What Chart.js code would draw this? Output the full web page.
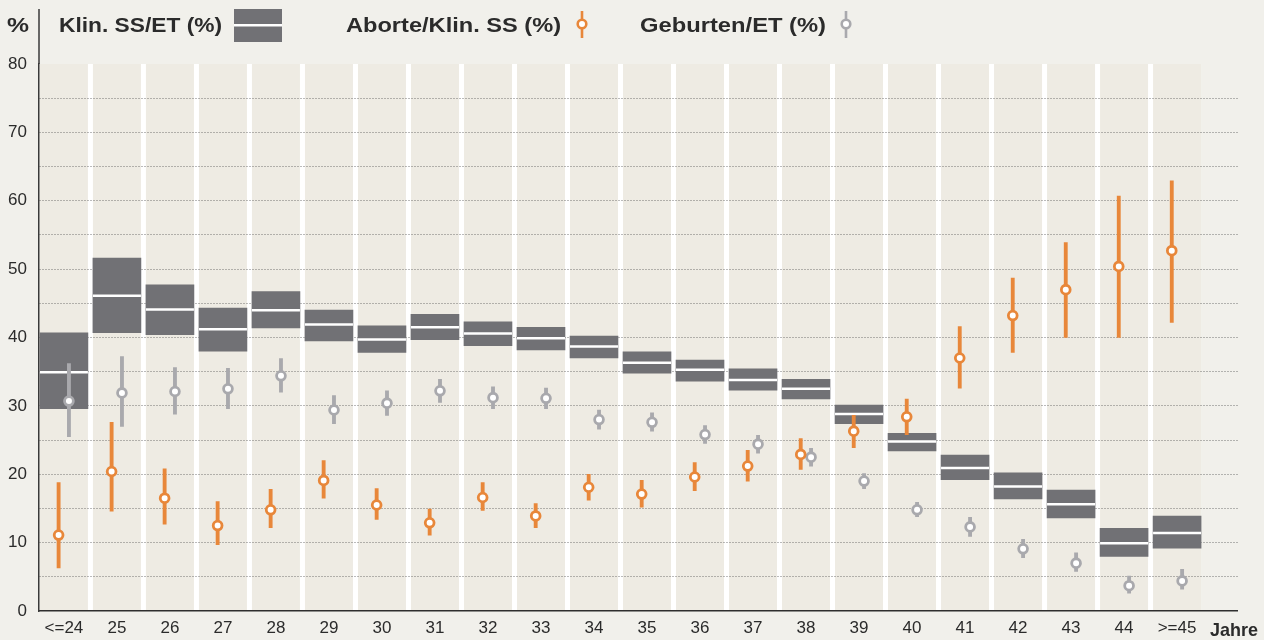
<!DOCTYPE html>
<html>
<head>
<meta charset="utf-8">
<script src="https://cdn.jsdelivr.net/npm/chart.js@4.4.1/dist/chart.umd.min.js"></script>
<style>
  html, body { margin: 0; padding: 0; background: #f1f0eb; }
  #wrap { width: 1264px; height: 640px; }
</style>
</head>
<body>
<div id="wrap"><canvas id="chart" width="1264" height="640"></canvas></div>
<script>
// DATA
const ageLabels = ["<=24", "25", "26", "27", "28", "29", "30", "31", "32", "33", "34",
    "35", "36", "37", "38", "39", "40", "41", "42", "43", "44", ">=45"];

// Klin. SS/ET (%) - box low / high / median
const klinLow  = [29.6, 40.7, 40.4, 38.0, 41.4, 39.5, 37.8, 39.7, 38.8, 38.2, 37.0,
    34.8, 33.6, 32.3, 31.0, 27.4, 23.4, 19.2, 16.4, 13.6, 8.0, 9.2];
const klinHigh = [40.7, 51.6, 47.7, 44.3, 46.7, 44.0, 41.7, 43.4, 42.3, 41.5, 40.2,
    37.9, 36.7, 35.4, 33.9, 30.1, 26.0, 22.8, 20.2, 17.7, 12.1, 13.9];
const klinMed  = [34.9, 46.1, 44.1, 41.2, 44.0, 41.9, 39.7, 41.5, 40.6, 39.9, 38.7,
    36.3, 35.3, 33.8, 32.5, 28.8, 24.8, 20.9, 18.2, 15.6, 9.9, 11.4];

// Aborte/Klin. SS (%)
const abortMid  = [11.1, 20.4, 16.5, 12.5, 14.8, 19.1, 15.5, 12.9, 16.6, 13.9, 18.1,
    17.1, 19.6, 21.2, 22.9, 26.3, 28.4, 37.0, 43.2, 47.0, 50.4, 52.7];
const abortLow  = [6.3, 14.6, 12.7, 9.7, 12.2, 16.5, 13.4, 11.1, 14.7, 12.2, 16.2,
    15.2, 17.6, 19.0, 20.7, 23.9, 25.8, 32.6, 37.8, 40.0, 40.0, 42.2];
const abortHigh = [18.8, 27.6, 20.8, 16.0, 17.8, 22.0, 17.9, 14.9, 18.8, 15.7, 20.0,
    19.1, 21.7, 23.5, 25.2, 28.6, 31.0, 41.6, 48.7, 53.9, 60.7, 62.9];

// Geburten/ET (%)
const birthMid  = [30.7, 31.9, 32.1, 32.5, 34.4, 29.4, 30.4, 32.2, 31.2, 31.1, 28.0,
    27.6, 25.8, 24.4, 22.5, 19.0, 14.8, 12.3, 9.1, 7.0, 3.7, 4.4];
const birthLow  = [25.5, 27.0, 28.8, 29.6, 32.0, 27.4, 28.6, 30.5, 29.6, 29.6, 26.6,
    26.3, 24.5, 23.1, 21.2, 17.9, 13.8, 10.9, 7.8, 5.8, 2.6, 3.2];
const birthHigh = [36.2, 37.2, 35.6, 35.5, 36.9, 31.5, 32.2, 33.9, 32.8, 32.6, 29.4,
    29.0, 27.1, 25.7, 23.8, 20.1, 15.9, 13.7, 10.5, 8.5, 5.1, 6.1];

const COL_BOX = "#717175";
const COL_ORANGE = "#e8873a";
const COL_GREY = "#a9a9ad";
const COL_BEIGE = "#eeebe3";
const COL_PAGE = "#f1f0eb";
const COL_TEXT = "#2b2b2b";
const ORANGE_OFF = -0.1;
const GREY_OFF = 0.095;

// BUILD POINTS
const boxPoints = ageLabels.map((_, i) => ({ x: i, y: [klinLow[i], klinHigh[i]] }));
const medPoints = ageLabels.map((_, i) => ({ x: i, y: klinMed[i] }));
const abortBars = ageLabels.map((_, i) => ({ x: i + ORANGE_OFF, y: [abortLow[i], abortHigh[i]] }));
const abortDots = ageLabels.map((_, i) => ({ x: i + ORANGE_OFF, y: abortMid[i] }));
const birthBars = ageLabels.map((_, i) => ({ x: i + GREY_OFF, y: [birthLow[i], birthHigh[i]] }));
const birthDots = ageLabels.map((_, i) => ({ x: i + GREY_OFF, y: birthMid[i] }));

// fit text horizontally to a target width
function fitText(ctx, text, x, y, width) {
    const w = ctx.measureText(text).width;
    const sx = width / w;
    ctx.save();
    ctx.translate(x, y);
    ctx.scale(sx, 1);
    ctx.fillText(text, 0, 0);
    ctx.restore();
}

// BACKGROUND: page + beige age columns with white gaps
const backgroundPlugin = {
    id: "columnsBg",
    beforeDraw(chart) {
        const ctx = chart.ctx;
        const xs = chart.scales.x;
        const ys = chart.scales.y;
        const top = ys.getPixelForValue(80);
        const bottom = ys.getPixelForValue(0);
        const half = 24;

        ctx.save();
        ctx.fillStyle = COL_PAGE;
        ctx.fillRect(0, 0, chart.width, chart.height);

        const first = xs.getPixelForValue(0) - half;
        const last = xs.getPixelForValue(ageLabels.length - 1) + half;
        ctx.fillStyle = "#ffffff";
        ctx.fillRect(first, top, last - first, bottom - top);

        ctx.fillStyle = COL_BEIGE;
        ageLabels.forEach((_, i) => {
            const cx = xs.getPixelForValue(i);
            ctx.fillRect(cx - half, top, half * 2, bottom - top);
        });
        ctx.restore();
    }
};

// LEGEND + AXIS TITLES
const legendPlugin = {
    id: "legendText",
    afterDraw(chart) {
        const ctx = chart.ctx;
        const area = chart.chartArea;
        ctx.save();

        // y axis extends up to the legend row
        ctx.strokeStyle = "#3a3a3a";
        ctx.lineWidth = 1.5;
        ctx.beginPath();
        ctx.moveTo(area.left, 9);
        ctx.lineTo(area.left, area.top);
        ctx.stroke();

        ctx.fillStyle = COL_TEXT;
        ctx.textBaseline = "alphabetic";
        ctx.textAlign = "left";
        ctx.font = "bold 21px 'Liberation Sans', Arial, sans-serif";
        fitText(ctx, "%", 7, 32, 22);
        fitText(ctx, "Klin. SS/ET (%)", 59, 32, 163);
        fitText(ctx, "Aborte/Klin. SS (%)", 346, 32, 215);
        fitText(ctx, "Geburten/ET (%)", 640, 32, 186);

        // box symbol
        ctx.fillStyle = COL_BOX;
        ctx.fillRect(234, 9, 48, 33);
        ctx.fillStyle = "#ffffff";
        ctx.fillRect(234, 24, 48, 2.5);

        // error bar symbols
        [[582, COL_ORANGE], [846, COL_GREY]].forEach(([x, c]) => {
            ctx.strokeStyle = c;
            ctx.lineWidth = 2.6;
            ctx.beginPath();
            ctx.moveTo(x, 11);
            ctx.lineTo(x, 38);
            ctx.stroke();
            ctx.beginPath();
            ctx.arc(x, 24, 4.3, 0, Math.PI * 2);
            ctx.fillStyle = "#ffffff";
            ctx.fill();
            ctx.stroke();
        });

        // x axis title
        ctx.fillStyle = COL_TEXT;
        ctx.font = "bold 19px 'Liberation Sans', Arial, sans-serif";
        fitText(ctx, "Jahre", 1210, 636, 48);
        ctx.restore();
    }
};

new Chart(document.getElementById("chart"), {
    type: "bar",
    data: {
        datasets: [
            {
                type: "scatter",
                data: abortDots,
                pointStyle: "circle",
                pointRadius: 4.4,
                pointBorderWidth: 2.8,
                pointBackgroundColor: "#ffffff",
                pointBorderColor: COL_ORANGE,
                order: 1
            },
            {
                type: "scatter",
                data: birthDots,
                pointStyle: "circle",
                pointRadius: 4.4,
                pointBorderWidth: 2.8,
                pointBackgroundColor: "#ffffff",
                pointBorderColor: COL_GREY,
                order: 2
            },
            {
                type: "bar",
                data: abortBars,
                backgroundColor: COL_ORANGE,
                barThickness: 3.2,
                grouped: false,
                order: 3
            },
            {
                type: "bar",
                data: birthBars,
                backgroundColor: COL_GREY,
                barThickness: 3.2,
                grouped: false,
                order: 4
            },
            {
                type: "scatter",
                data: medPoints,
                pointStyle: "line",
                pointRadius: 24,
                pointBorderWidth: 2.5,
                pointBorderColor: "#ffffff",
                order: 5
            },
            {
                type: "bar",
                data: boxPoints,
                backgroundColor: COL_BOX,
                barThickness: 48,
                grouped: false,
                order: 6
            }
        ]
    },
    options: {
        responsive: false,
        animation: false,
        events: [],
        layout: { padding: { top: 64, right: 22, left: 0, bottom: 0 } },
        plugins: {
            legend: { display: false },
            tooltip: { enabled: false }
        },
        scales: {
            x: {
                type: "linear",
                min: -0.47,
                max: 22.14,
                offset: false,
                afterFit: s => {
                    s.height = 29;
                    s.paddingLeft = 0;
                    s.paddingRight = 0;
                },
                ticks: {
                    stepSize: 1,
                    includeBounds: false,
                    autoSkip: false,
                    maxRotation: 0,
                    padding: 7,
                    color: COL_TEXT,
                    font: { family: "'Liberation Sans', Arial, sans-serif", size: 17 },
                    callback: v => ageLabels[v] || ""
                },
                grid: { display: false, drawTicks: false },
                border: { display: true, color: "#2f2f2f", width: 1.5 }
            },
            y: {
                min: 0,
                max: 80,
                afterFit: s => { s.width = 39; },
                ticks: {
                    stepSize: 5,
                    padding: 12,
                    color: COL_TEXT,
                    font: { family: "'Liberation Sans', Arial, sans-serif", size: 17 },
                    callback: v => (v % 10 === 0 ? v : "")
                },
                grid: {
                    drawTicks: false,
                    color: ctx => (ctx.tick.value === 0 || ctx.tick.value === 80 ? "rgba(0,0,0,0)" : "rgba(85,85,85,0.8)"),
                    lineWidth: 1
                },
                border: { display: true, color: "#3a3a3a", width: 1.5, dash: [1, 2] }
            }
        }
    },
    plugins: [backgroundPlugin, legendPlugin]
});
</script>
</body>
</html>
